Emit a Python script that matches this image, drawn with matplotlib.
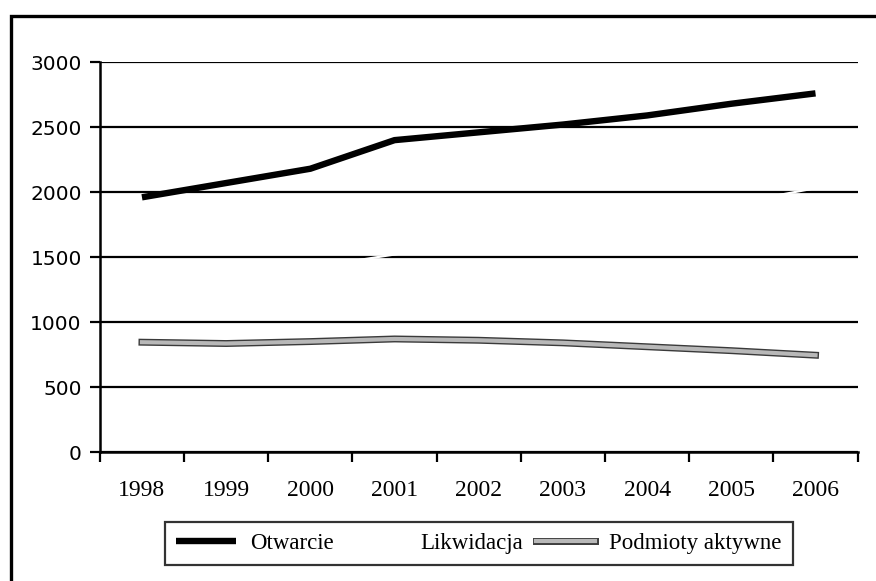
import numpy as np
import matplotlib
matplotlib.use("Agg")
import matplotlib.pyplot as plt
import matplotlib.patheffects as pe
from matplotlib.patches import Rectangle

years = ["1998", "1999", "2000", "2001", "2002", "2003", "2004", "2005", "2006"]
otwarcie = [1960, 2070, 2180, 2400, 2460, 2520, 2590, 2680, 2760]
likwidacja = [1230, 1330, 1420, 1520, 1620, 1720, 1810, 1910, 2030]
podmioty = [845, 835, 850, 870, 860, 840, 810, 780, 745]
yticks = [0, 500, 1000, 1500, 2000, 2500, 3000]

serif = "Liberation Serif"

fig = plt.figure(figsize=(8.76, 5.81), dpi=100)
# scanned outer frame, runs off the page right and bottom
fig.patches.append(Rectangle((0.013, -0.1), 1.2, 1.073, transform=fig.transFigure,
                             fill=False, ec="black", lw=2.4))

ax = fig.add_axes([0.114, 0.222, 0.865, 0.671])
x = np.arange(len(years))

for v in yticks:
    ax.axhline(v, color="black", lw=1.6, zorder=1)

ax.plot(x, likwidacja, color="white", lw=1.6, zorder=2, label="Likwidacja")
ax.plot(x, podmioty, color="#b8b8b8", lw=3.0, zorder=3, label="Podmioty aktywne",
        path_effects=[pe.Stroke(linewidth=5.0, foreground="#3a3a3a"), pe.Normal()])
ax.plot(x, otwarcie, color="black", lw=4.6, zorder=4, label="Otwarcie",
        solid_capstyle="butt")

ax.set_xlim(-0.5, len(years) - 0.5)
ax.set_ylim(0, 3000)
for s in ["top", "right"]:
    ax.spines[s].set_visible(False)
for s in ["left", "bottom"]:
    ax.spines[s].set_linewidth(1.8)

ax.set_yticks(yticks)
ax.set_yticklabels([str(v) for v in yticks], fontsize=14.5, family="DejaVu Sans")
ax.tick_params(axis="y", length=7, width=1.6, pad=6)

ax.set_xticks(np.arange(len(years) + 1) - 0.5)
ax.set_xticklabels([])
ax.set_xticks(x, minor=True)
ax.set_xticklabels(years, minor=True, fontsize=17, family=serif)
ax.tick_params(axis="x", which="major", length=7, width=1.6)
ax.tick_params(axis="x", which="minor", length=0, pad=20)

h, l = ax.get_legend_handles_labels()
order = [2, 0, 1]
leg = fig.legend([h[i] for i in order], [l[i] for i in order],
                 loc="center", ncol=3, mode="expand",
                 bbox_to_anchor=(165 / 876, 1 - 565 / 581, 628 / 876, 43 / 581),
                 prop={"family": serif, "size": 16.5}, frameon=True, fancybox=False,
                 handlelength=2.6, handletextpad=0.6, borderaxespad=0, borderpad=0.5)
leg.get_frame().set_edgecolor("black")
leg.get_frame().set_linewidth(1.6)

fig.savefig("out.png", dpi=100)
